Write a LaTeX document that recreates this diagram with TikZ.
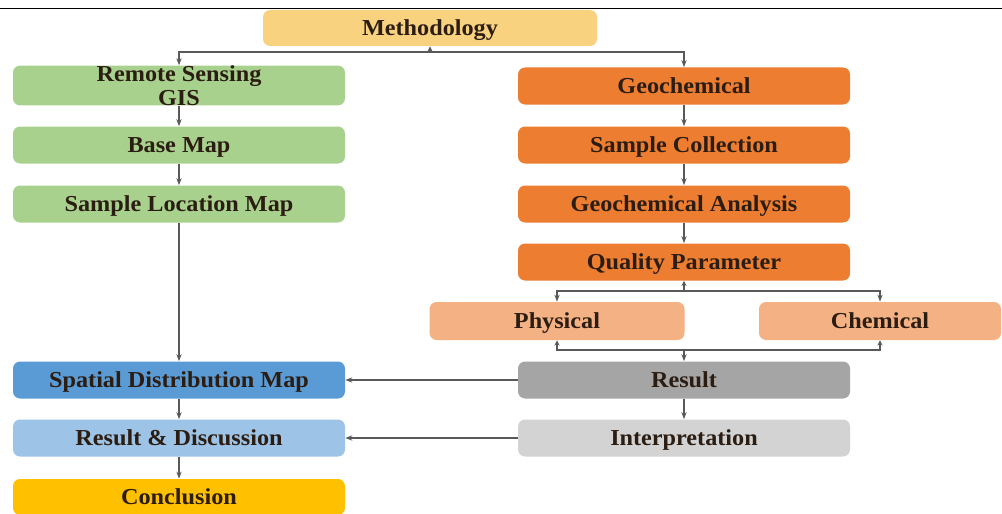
\documentclass[tikz,border=0pt]{standalone}
\usepackage{fontspec}
\setmainfont{Liberation Serif}
\newfontfamily\boxfont[FakeStretch=1.06]{Liberation Serif}
\usepackage{tikz}
\usetikzlibrary{arrows.meta, positioning, calc}

\definecolor{methfill}{HTML}{F9D27F}
\definecolor{greenbox}{HTML}{A9D18E}
\definecolor{orangebox}{HTML}{ED7D31}
\definecolor{salmonbox}{HTML}{F4B183}
\definecolor{bluebox}{HTML}{5B9BD5}
\definecolor{lightblue}{HTML}{9DC3E6}
\definecolor{goldbox}{HTML}{FFC000}
\definecolor{greybox}{HTML}{A5A5A5}
\definecolor{lightgrey}{HTML}{D3D3D3}
\definecolor{txt}{HTML}{2B1D12}

\begin{document}
\begin{tikzpicture}[
  box/.style={rectangle, rounded corners=4pt, draw=none, font=\boxfont\fontsize{13}{13}\selectfont\bfseries, text=txt, align=center, inner sep=0pt, text height=8.6pt, text depth=0pt, minimum height=0.74cm},
  lbox/.style={box, minimum width=6.64cm},
  rbox/.style={box, minimum width=6.64cm},
  arr/.style={draw=black!65, line width=0.6pt, -{Stealth[length=4pt,width=3pt]}},
  both/.style={draw=black!65, line width=0.6pt, {Stealth[length=3pt,width=3pt]}-{Stealth[length=4pt,width=3pt]}},
  back/.style={draw=black!65, line width=0.6pt, {Stealth[length=3pt,width=3pt]}-},
]
\useasboundingbox (0,0) rectangle (20.04,-10.28);
\draw[black, line width=1pt] (0,-0.17) -- (20.04,-0.17);

\node[box, fill=methfill, minimum width=6.68cm, minimum height=0.72cm] (meth) at (8.6,-0.56) {Methodology};

% left column
\node[lbox, fill=greenbox, text height=, text depth=] (rs) at (3.58,-1.71) {Remote Sensing\\[0.5pt]GIS};
\node[lbox, fill=greenbox] (base) at (3.58,-2.90) {Base Map};
\node[lbox, fill=greenbox] (slm)  at (3.58,-4.08) {Sample Location Map};
\node[lbox, fill=bluebox]  (sdm)  at (3.58,-7.60) {Spatial Distribution Map};
\node[lbox, fill=lightblue] (rd)  at (3.58,-8.76) {Result \& Discussion};
\node[lbox, fill=goldbox, minimum height=0.72cm] (concl) at (3.58,-9.94) {Conclusion};

% right column
\node[rbox, fill=orangebox] (geo)    at (13.68,-1.72) {Geochemical};
\node[rbox, fill=orangebox] (coll)   at (13.68,-2.90) {Sample Collection};
\node[rbox, fill=orangebox] (anal)   at (13.68,-4.08) {Geochemical Analysis};
\node[rbox, fill=orangebox] (qual)   at (13.68,-5.24) {Quality Parameter};
\node[box, fill=salmonbox, minimum width=5.1cm, minimum height=0.76cm] (phys) at (11.14,-6.42) {Physical};
\node[box, fill=salmonbox, minimum width=4.84cm, minimum height=0.76cm] (chem) at (17.6,-6.42) {Chemical};
\node[rbox, fill=greybox]   (res)    at (13.68,-7.60) {Result};
\node[rbox, fill=lightgrey] (interp) at (13.68,-8.76) {Interpretation};

\coordinate (topbus) at (8.6,-1.04);
\coordinate (qbus)   at (13.68,-5.82);
\coordinate (pbus)   at (13.68,-7.0);

\draw[both] (meth.south) -- (topbus) -| (rs.north);
\draw[arr] (topbus) -| (geo.north);

\draw[arr] (rs) -- (base);
\draw[arr] (base) -- (slm);
\draw[arr] (slm) -- (sdm);
\draw[arr] (sdm) -- (rd);
\draw[arr] (rd) -- (concl);

\draw[arr] (geo) -- (coll);
\draw[arr] (coll) -- (anal);
\draw[arr] (anal) -- (qual);

\draw[both] (qual.south) -- (qbus) -| (phys.north);
\draw[arr] (qbus) -| (chem.north);

\draw[both] (phys.south) |- (pbus) -- (res.north);
\draw[back] (chem.south) |- (pbus);

\draw[arr] (res) -- (interp);
\draw[arr] (res) -- (sdm);
\draw[arr] (interp) -- (rd);
\end{tikzpicture}
\end{document}
